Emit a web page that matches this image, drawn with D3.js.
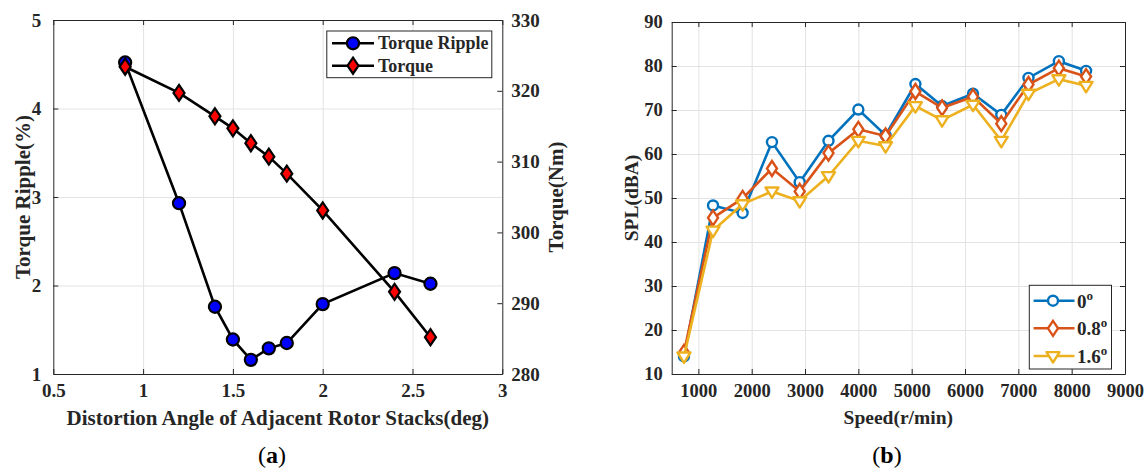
<!DOCTYPE html>
<html>
<head>
<meta charset="utf-8">
<script src="https://cdn.jsdelivr.net/npm/d3@7"></script>
<style>
  body { margin: 0; background: #fff; }
  svg { display: block; }
  svg text { font-family: "Liberation Serif", "Times New Roman", serif; }
  .tk text { font-weight: bold; fill: #262626; }
  .tk path, .tk line { stroke: #262626; }
  .grid line { stroke: #e3e3e3; }
  .grid path { display: none; }
</style>
</head>
<body>
<script>
// (a) torque ripple / torque vs distortion angle
var angle = [0.9, 1.2, 1.4, 1.5, 1.6, 1.7, 1.8, 2.0, 2.4, 2.6];
var ripple = [4.52, 2.93, 1.76, 1.39, 1.16, 1.29, 1.35, 1.79, 2.14, 2.02];
var torque = [323.4, 319.7, 316.4, 314.7, 312.6, 310.7, 308.3, 303.1, 291.6, 285.2];
var angleTicks = [0.5, 1, 1.5, 2, 2.5, 3];
var rippleTicks = [1, 2, 3, 4, 5];
var torqueTicks = [280, 290, 300, 310, 320, 330];

// (b) SPL vs speed
var speed = [730, 1275, 1830, 2380, 2900, 3440, 4000, 4510, 5070, 5570, 6150, 6680, 7190, 7760, 8270];
var spl0  = [14.0, 48.3, 46.6, 62.7, 53.6, 63.0, 70.1, 64.3, 75.9, 70.9, 73.7, 68.9, 77.3, 81.1, 78.9];
var spl08 = [14.9, 45.5, 49.9, 56.7, 51.5, 60.2, 65.6, 64.1, 74.2, 70.5, 73.0, 66.9, 75.8, 79.5, 77.6];
var spl16 = [14.0, 42.6, 48.6, 51.5, 49.3, 55.0, 63.0, 61.8, 70.9, 67.7, 71.2, 63.0, 73.7, 77.0, 75.5];
var speedTicks = [1000, 2000, 3000, 4000, 5000, 6000, 7000, 8000, 9000];
var splTicks = [10, 20, 30, 40, 50, 60, 70, 80, 90];
var splNames = ["0", "0.8", "1.6"];
var splColors = ["#0072BD", "#D95319", "#EDB120"];

var W = 1148, H = 473;
var svg = d3.select("body").append("svg").attr("width", W).attr("height", H);

var fmt = d3.format("~g");

// ---------- panel (a) ----------
var x = d3.scaleLinear().domain([0.5, 3]).range([53.3, 502.3]);
var yL = d3.scaleLinear().domain([1, 5]).range([374, 20]);
var yR = d3.scaleLinear().domain([280, 330]).range([374, 20]);
var pa = svg.append("g");

pa.append("g").attr("class", "grid").attr("transform", "translate(0,374)")
  .call(d3.axisBottom(x).tickValues(angleTicks.slice(1, -1)).tickSize(-354).tickFormat(""));
pa.append("g").attr("class", "grid").attr("transform", "translate(53.3,0)")
  .call(d3.axisLeft(yL).tickValues(rippleTicks.slice(1, -1)).tickSize(-449).tickFormat(""));

function axisStyle(g, size) {
  g.attr("class", "tk").attr("font-size", size).attr("font-family", null);
}

pa.append("g").attr("transform", "translate(0,374)")
  .call(d3.axisBottom(x).tickValues(angleTicks).tickSize(-5).tickSizeOuter(0).tickPadding(10).tickFormat(fmt))
  .call(axisStyle, 19);
pa.append("g").attr("transform", "translate(0,20)")
  .call(d3.axisTop(x).tickValues(angleTicks).tickSize(-5).tickSizeOuter(0).tickFormat(""))
  .call(axisStyle, 19);
pa.append("g").attr("transform", "translate(53.3,0)")
  .call(d3.axisLeft(yL).tickValues(rippleTicks).tickSize(-5).tickSizeOuter(0).tickPadding(12).tickFormat(fmt))
  .call(axisStyle, 19);
pa.append("g").attr("transform", "translate(502.3,0)")
  .call(d3.axisRight(yR).tickValues(torqueTicks).tickSize(-5).tickSizeOuter(0).tickPadding(9).tickFormat(fmt))
  .call(axisStyle, 19);

var circle = d3.symbol().type(d3.symbolCircle).size(115);
var diamond = function (cx, cy, w, h) {
  return "M" + cx + "," + (cy - h) + "L" + (cx + w) + "," + cy + "L" + cx + "," + (cy + h) + "L" + (cx - w) + "," + cy + "Z";
};

var lineR = d3.line().x(function (d, i) { return x(angle[i]); }).y(function (d) { return yL(d); });
var lineT = d3.line().x(function (d, i) { return x(angle[i]); }).y(function (d) { return yR(d); });

pa.append("path").datum(ripple).attr("d", lineR).attr("fill", "none").attr("stroke", "#000").attr("stroke-width", 2.6);
pa.append("path").datum(torque).attr("d", lineT).attr("fill", "none").attr("stroke", "#000").attr("stroke-width", 2.6);

pa.selectAll(".mr").data(ripple).join("path").attr("class", "mr")
  .attr("transform", function (d, i) { return "translate(" + x(angle[i]) + "," + yL(d) + ")"; })
  .attr("d", circle).attr("fill", "#0000ff").attr("stroke", "#000").attr("stroke-width", 2.2);
pa.selectAll(".mt").data(torque).join("path").attr("class", "mt")
  .attr("d", function (d, i) { return diamond(x(angle[i]), yR(d), 5.5, 8); })
  .attr("fill", "#ff0000").attr("stroke", "#000").attr("stroke-width", 2.2);

// legend (a)
var la = pa.append("g");
la.append("rect").attr("x", 326.8).attr("y", 31).attr("width", 165).attr("height", 46.7)
  .attr("fill", "#fff").attr("stroke", "#262626").attr("stroke-width", 1);
[["Torque Ripple", 43.3, "c"], ["Torque", 65.7, "d"]].forEach(function (e) {
  la.append("line").attr("x1", 332).attr("x2", 374).attr("y1", e[1]).attr("y2", e[1])
    .attr("stroke", "#000").attr("stroke-width", 2.6);
  if (e[2] === "c") {
    la.append("path").attr("transform", "translate(353," + e[1] + ")").attr("d", circle)
      .attr("fill", "#0000ff").attr("stroke", "#000").attr("stroke-width", 2.2);
  } else {
    la.append("path").attr("d", diamond(353, e[1], 5.5, 8))
      .attr("fill", "#ff0000").attr("stroke", "#000").attr("stroke-width", 2.2);
  }
  la.append("text").attr("x", 378).attr("y", e[1] + 6).attr("font-size", 18).attr("font-weight", "bold")
    .attr("fill", "#262626").text(e[0]);
});

pa.append("text").attr("transform", "translate(30,197) rotate(-90)").attr("text-anchor", "middle")
  .attr("font-size", 21).attr("font-weight", "bold").attr("fill", "#262626").text("Torque Ripple(%)");
pa.append("text").attr("transform", "translate(563,197) rotate(-90)").attr("text-anchor", "middle")
  .attr("font-size", 21).attr("font-weight", "bold").attr("fill", "#262626").text("Torque(Nm)");
pa.append("text").attr("x", 277.8).attr("y", 425).attr("text-anchor", "middle")
  .attr("font-size", 21).attr("font-weight", "bold").attr("fill", "#262626")
  .text("Distortion Angle of Adjacent Rotor Stacks(deg)");
pa.append("text").attr("x", 272).attr("y", 463).attr("text-anchor", "middle")
  .attr("font-size", 24).attr("fill", "#000").html("(<tspan font-weight='bold'>a</tspan>)");

// ---------- panel (b) ----------
var xs = d3.scaleLinear().domain([500, 9000]).range([671.7, 1125]);
var ys = d3.scaleLinear().domain([10, 90]).range([374, 22]);
var pb = svg.append("g");

pb.append("g").attr("class", "grid").attr("transform", "translate(0,374)")
  .call(d3.axisBottom(xs).tickValues(speedTicks.slice(0, -1)).tickSize(-352).tickFormat(""));
pb.append("g").attr("class", "grid").attr("transform", "translate(671.7,0)")
  .call(d3.axisLeft(ys).tickValues(splTicks.slice(1, -1)).tickSize(-453.3).tickFormat(""));

pb.append("g").attr("transform", "translate(0,374)")
  .call(d3.axisBottom(xs).tickValues(speedTicks).tickSize(-5).tickSizeOuter(0).tickPadding(10).tickFormat(fmt))
  .call(axisStyle, 18.5);
pb.append("g").attr("transform", "translate(0,22)")
  .call(d3.axisTop(xs).tickValues(speedTicks).tickSize(-5).tickSizeOuter(0).tickFormat(""))
  .call(axisStyle, 18.5);
pb.append("g").attr("transform", "translate(671.7,0)")
  .call(d3.axisLeft(ys).tickValues(splTicks).tickSize(-5).tickSizeOuter(0).tickPadding(9).tickFormat(fmt))
  .call(axisStyle, 18.5);
pb.append("g").attr("transform", "translate(1125,0)")
  .call(d3.axisRight(ys).tickValues(splTicks).tickSize(-5).tickSizeOuter(0).tickFormat(""))
  .call(axisStyle, 18.5);

var tri = function (cx, cy, s) {
  return "M" + (cx - s) + "," + (cy - s * 0.6) + "L" + (cx + s) + "," + (cy - s * 0.6) + "L" + cx + "," + (cy + s * 1.0) + "Z";
};
function marker(g, k, cx, cy) {
  var c = splColors[k];
  if (k === 0) {
    g.append("circle").attr("cx", cx).attr("cy", cy).attr("r", 5).attr("fill", "#fff")
      .attr("stroke", c).attr("stroke-width", 2.4);
  } else if (k === 1) {
    g.append("path").attr("d", diamond(cx, cy, 5, 7.5)).attr("fill", "#fff")
      .attr("stroke", c).attr("stroke-width", 2.4);
  } else {
    g.append("path").attr("d", tri(cx, cy, 6.5)).attr("fill", "#fff")
      .attr("stroke", c).attr("stroke-width", 2.4).attr("stroke-linejoin", "round");
  }
}

[spl0, spl08, spl16].forEach(function (series, k) {
  var line = d3.line().x(function (d, i) { return xs(speed[i]); }).y(function (d) { return ys(d); });
  pb.append("path").datum(series).attr("d", line).attr("fill", "none")
    .attr("stroke", splColors[k]).attr("stroke-width", 2.6);
  series.forEach(function (v, i) { marker(pb, k, xs(speed[i]), ys(v)); });
});

// legend (b)
var lb = pb.append("g");
lb.append("rect").attr("x", 1029.3).attr("y", 285.3).attr("width", 82.2).attr("height", 83.7)
  .attr("fill", "#fff").attr("stroke", "#262626").attr("stroke-width", 1);
[300.7, 328.3, 356].forEach(function (yy, k) {
  lb.append("line").attr("x1", 1033.6).attr("x2", 1074.5).attr("y1", yy).attr("y2", yy)
    .attr("stroke", splColors[k]).attr("stroke-width", 2.6);
  marker(lb, k, 1053, yy);
  var t = lb.append("text").attr("x", 1077).attr("y", yy + 7).attr("font-size", 19)
    .attr("font-weight", "bold").attr("fill", "#262626");
  t.append("tspan").text(splNames[k]);
  t.append("tspan").attr("dy", -8).attr("font-size", 13).text("o");
});

pb.append("text").attr("transform", "translate(638,198) rotate(-90)").attr("text-anchor", "middle")
  .attr("font-size", 19.5).attr("font-weight", "bold").attr("fill", "#262626").text("SPL(dBA)");
pb.append("text").attr("x", 898.3).attr("y", 424).attr("text-anchor", "middle")
  .attr("font-size", 19.5).attr("font-weight", "bold").attr("fill", "#262626").text("Speed(r/min)");
pb.append("text").attr("x", 887).attr("y", 463).attr("text-anchor", "middle")
  .attr("font-size", 24).attr("fill", "#000").html("(<tspan font-weight='bold'>b</tspan>)");
</script>
</body>
</html>
